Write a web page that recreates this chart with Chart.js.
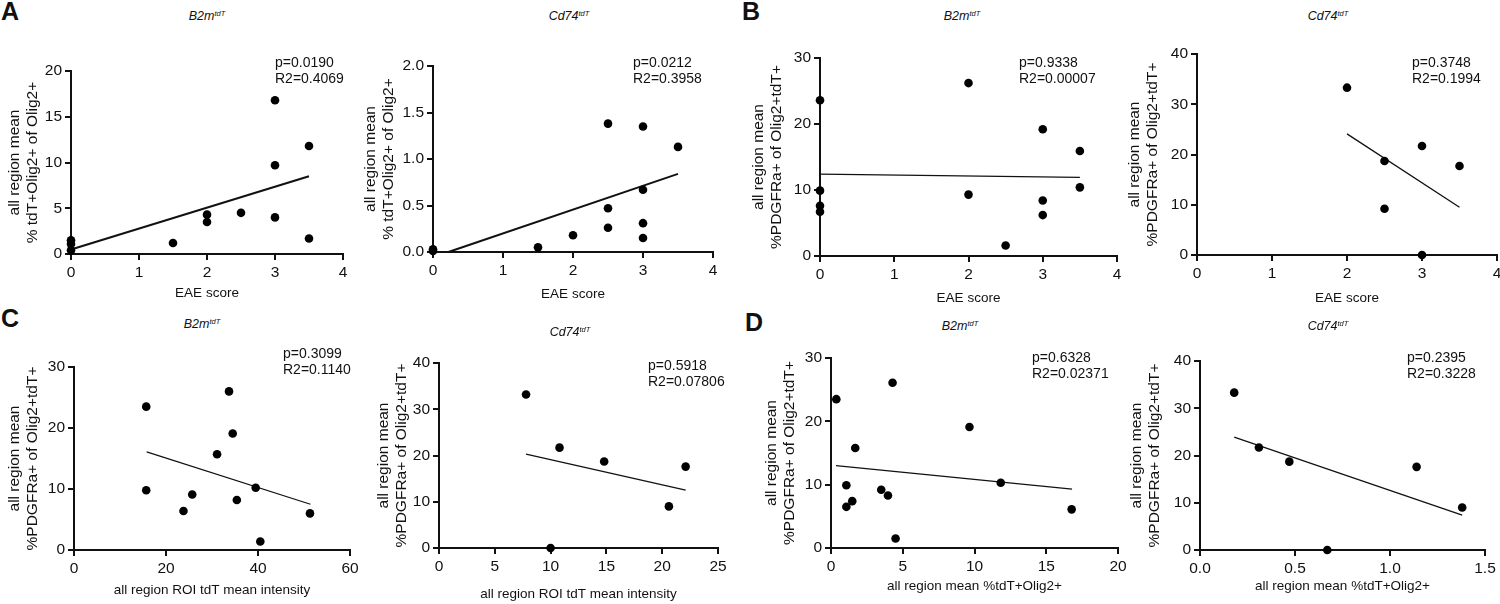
<!DOCTYPE html>
<html lang="en">
<head>
<meta charset="UTF-8">
<title>tdT correlations</title>
<script src="https://cdn.jsdelivr.net/npm/chart.js"></script>
<style>
  body { margin: 0; width: 1500px; height: 604px; position: relative; overflow: hidden; background: #fff;
         font-family: "Liberation Sans", Arial, sans-serif; color: #111; }
  .box { position: absolute; }
  .letter { position: absolute; font-weight: bold; font-size: 25px; line-height: 25px; }
  .ttl { position: absolute; font-style: italic; font-size: 12.5px; line-height: 14px; transform: translateX(-50%); white-space: nowrap; }
  .ttl sup { font-size: 7.5px; vertical-align: 4px; line-height: 0; }
  .stat { position: absolute; font-size: 14px; line-height: 16px; white-space: nowrap; }
</style>
</head>
<body>
<div class="letter" style="left:1px;top:-1px">A</div>
<div class="letter" style="left:742px;top:-1px">B</div>
<div class="letter" style="left:1px;top:306px">C</div>
<div class="letter" style="left:745px;top:310px">D</div>

<script>
  // A: EAE score vs % tdT+Olig2+ of Olig2+
  const aB2mX = [0, 0, 0, 1.5, 2, 2, 2.5, 3, 3, 3, 3.5, 3.5];
  const aB2mY = [1.5, 1.1, 0.4, 1.2, 4.3, 3.5, 4.5, 16.8, 9.7, 4.0, 11.8, 1.7];
  const aB2mFitX = [0, 3.5];
  const aB2mFitY = [0.5, 8.5];

  const aCd74X = [0, 0, 1.5, 2, 2.5, 2.5, 2.5, 3, 3, 3, 3, 3.5];
  const aCd74Y = [0.03, 0.01, 0.05, 0.18, 1.38, 0.47, 0.26, 1.35, 0.67, 0.31, 0.15, 1.13];
  const aCd74FitX = [0.22, 3.5];
  const aCd74FitY = [0, 0.84];

  // B: EAE score vs %PDGFRa+ of Olig2+tdT+
  const bB2mX = [0, 0, 0, 0, 2, 2, 2.5, 3, 3, 3, 3.5, 3.5];
  const bB2mY = [23.6, 9.9, 7.6, 6.7, 26.2, 9.3, 1.6, 19.2, 8.4, 6.2, 15.9, 10.4];
  const bB2mFitX = [0, 3.5];
  const bB2mFitY = [12.4, 11.9];

  const bCd74X = [2, 2.5, 2.5, 3, 3, 3.5];
  const bCd74Y = [33.3, 18.7, 9.2, 21.7, 0, 17.7];
  const bCd74FitX = [2, 3.5];
  const bCd74FitY = [24.1, 9.5];

  // C: ROI tdT mean intensity vs %PDGFRa+ of Olig2+tdT+
  const cB2mX = [15.7, 15.7, 23.8, 25.7, 31.1, 33.7, 34.5, 35.4, 39.5, 40.5, 51.3];
  const cB2mY = [23.5, 9.8, 6.4, 9.1, 15.7, 26.0, 19.1, 8.2, 10.2, 1.4, 6.0];
  const cB2mFitX = [15.8, 51.4];
  const cB2mFitY = [16.1, 7.5];

  const cCd74X = [7.8, 10.0, 10.8, 14.8, 20.6, 22.1];
  const cCd74Y = [33.2, 0, 21.7, 18.7, 9.0, 17.6];
  const cCd74FitX = [7.8, 22.1];
  const cCd74FitY = [20.3, 12.5];

  // D: mean %tdT+Olig2+ vs %PDGFRa+ of Olig2+tdT+
  const dB2mX = [0.37, 1.07, 1.07, 1.48, 1.69, 3.5, 3.97, 4.29, 4.5, 9.65, 11.83, 16.77];
  const dB2mY = [23.5, 9.9, 6.5, 7.4, 15.8, 9.2, 8.3, 26.1, 1.5, 19.1, 10.3, 6.1];
  const dB2mFitX = [0.35, 16.8];
  const dB2mFitY = [13.0, 9.3];

  const dCd74X = [0.18, 0.31, 0.47, 0.67, 1.14, 1.38];
  const dCd74Y = [33.3, 21.7, 18.7, 0, 17.6, 9.0];
  const dCd74FitX = [0.18, 1.38];
  const dCd74FitY = [23.9, 7.4];

  const yTitleA = ['all region mean', '% tdT+Olig2+ of Olig2+'];
  const yTitlePdg = ['all region mean', '%PDGFRa+ of Olig2+tdT+'];

  Chart.defaults.font.family = '"Liberation Sans", Arial, sans-serif';
  Chart.defaults.color = '#111';

  // chart-area edges in page pixels, axis ranges, text spots
  const panels = [
    { x: aB2mX, y: aB2mY, fx: aB2mFitX, fy: aB2mFitY, gene: 'B2m', p: 'p=0.0190', r: 'R2=0.4069',
      area: [71, 343, 71, 254], xr: [0, 4, 1], yr: [0, 20, 5], yDec: 0, xDec: 0,
      xTitle: 'EAE score', yTitle: yTitleA, xTitleY: 293, yTitleMid: 47, fitW: 2,
      ttl: [207, 9], stat: [275, 54] },
    { x: aCd74X, y: aCd74Y, fx: aCd74FitX, fy: aCd74FitY, gene: 'Cd74', p: 'p=0.0212', r: 'R2=0.3958',
      area: [433, 713, 66, 252], xr: [0, 4, 1], yr: [0, 2, 0.5], yDec: 1, xDec: 0,
      xTitle: 'EAE score', yTitle: yTitleA, xTitleY: 294, yTitleMid: 53, fitW: 2,
      ttl: [569, 9], stat: [633, 54] },
    { x: bB2mX, y: bB2mY, fx: bB2mFitX, fy: bB2mFitY, gene: 'B2m', p: 'p=0.9338', r: 'R2=0.00007',
      area: [820, 1117, 58, 256], xr: [0, 4, 1], yr: [0, 30, 10], yDec: 0, xDec: 0,
      xTitle: 'EAE score', yTitle: yTitlePdg, xTitleY: 298, yTitleMid: 52, fitW: 1.3,
      ttl: [962, 9], stat: [1019, 54] },
    { x: bCd74X, y: bCd74Y, fx: bCd74FitX, fy: bCd74FitY, gene: 'Cd74', p: 'p=0.3748', r: 'R2=0.1994',
      area: [1197, 1497, 54, 255], xr: [0, 4, 1], yr: [0, 40, 10], yDec: 0, xDec: 0,
      xTitle: 'EAE score', yTitle: yTitlePdg, xTitleY: 298, yTitleMid: 53, fitW: 1.3,
      ttl: [1328, 9], stat: [1412, 54] },
    { x: cB2mX, y: cB2mY, fx: cB2mFitX, fy: cB2mFitY, gene: 'B2m', p: 'p=0.3099', r: 'R2=0.1140',
      area: [74, 350, 367, 550], xr: [0, 60, 20], yr: [0, 30, 10], yDec: 0, xDec: 0,
      xTitle: 'all region ROI tdT mean intensity', yTitle: yTitlePdg, xTitleY: 590, yTitleMid: 50, fitW: 1.3,
      ttl: [202, 317], stat: [283, 345] },
    { x: cCd74X, y: cCd74Y, fx: cCd74FitX, fy: cCd74FitY, gene: 'Cd74', p: 'p=0.5918', r: 'R2=0.07806',
      area: [439, 718, 363, 548], xr: [0, 25, 5], yr: [0, 40, 10], yDec: 0, xDec: 0,
      xTitle: 'all region ROI tdT mean intensity', yTitle: yTitlePdg, xTitleY: 594, yTitleMid: 46, fitW: 1.3,
      ttl: [570, 325], stat: [648, 357] },
    { x: dB2mX, y: dB2mY, fx: dB2mFitX, fy: dB2mFitY, gene: 'B2m', p: 'p=0.6328', r: 'R2=0.02371',
      area: [831, 1118, 358, 548], xr: [0, 20, 5], yr: [0, 30, 10], yDec: 0, xDec: 0,
      xTitle: 'all region mean %tdT+Olig2+', yTitle: yTitlePdg, xTitleY: 586, yTitleMid: 50, fitW: 1.3,
      ttl: [960, 319], stat: [1032, 349] },
    { x: dCd74X, y: dCd74Y, fx: dCd74FitX, fy: dCd74FitY, gene: 'Cd74', p: 'p=0.2395', r: 'R2=0.3228',
      area: [1200, 1485, 361, 550], xr: [0, 1.5, 0.5], yr: [0, 40, 10], yDec: 0, xDec: 1,
      xTitle: 'all region mean %tdT+Olig2+', yTitle: yTitlePdg, xTitleY: 586, yTitleMid: 54, fitW: 1.3,
      ttl: [1328, 319], stat: [1407, 349] }
  ];

  const Y_W = 78, PAD_T = 14, PAD_R = 22, LH = 18;

  function axisStyle() {
    return {
      grid: { display: true, drawOnChartArea: false, drawTicks: true, tickLength: 6, color: '#111', lineWidth: 2 },
      border: { display: true, color: '#111', width: 2 }
    };
  }

  panels.forEach((pn, i) => {
    const [x0, x1, y0, y1] = pn.area;
    const xH = pn.xTitleY - y1 + LH / 2;
    const w = Y_W + (x1 - x0) + PAD_R;
    const h = PAD_T + (y1 - y0) + xH;

    const box = document.createElement('div');
    box.className = 'box';
    box.style.left = (x0 - Y_W) + 'px';
    box.style.top = (y0 - PAD_T) + 'px';
    const cv = document.createElement('canvas');
    cv.width = w; cv.height = h;
    box.appendChild(cv);
    document.body.appendChild(box);

    const ttl = document.createElement('div');
    ttl.className = 'ttl';
    ttl.style.left = pn.ttl[0] + 'px';
    ttl.style.top = pn.ttl[1] + 'px';
    ttl.innerHTML = pn.gene + '<sup>tdT</sup>';
    document.body.appendChild(ttl);

    const st = document.createElement('div');
    st.className = 'stat';
    st.style.left = pn.stat[0] + 'px';
    st.style.top = pn.stat[1] + 'px';
    st.innerHTML = pn.p + '<br>' + pn.r;
    document.body.appendChild(st);

    const pts = pn.x.map((v, k) => ({ x: v, y: pn.y[k] }));
    const fit = pn.fx.map((v, k) => ({ x: v, y: pn.fy[k] }));
    const titlePadTop = Y_W - (pn.yTitleMid + LH);

    new Chart(cv.getContext('2d'), {
      type: 'scatter',
      data: {
        datasets: [
          { data: fit, showLine: true, borderColor: '#111', borderWidth: pn.fitW, pointRadius: 0, clip: false, order: 2 },
          { data: pts, backgroundColor: '#000', borderWidth: 0, pointRadius: 4.3, clip: false, order: 1 }
        ]
      },
      options: {
        responsive: false,
        animation: false,
        layout: { padding: { left: 0, top: PAD_T, right: PAD_R, bottom: 0 } },
        plugins: { legend: { display: false }, tooltip: { enabled: false } },
        scales: {
          x: Object.assign(axisStyle(), {
            type: 'linear', min: pn.xr[0], max: pn.xr[1],
            ticks: { stepSize: pn.xr[2], font: { size: 15.5 }, color: '#111', padding: 3,
                     callback: v => v.toFixed(pn.xDec) },
            title: { display: true, text: pn.xTitle, font: { size: 13.5, lineHeight: LH / 13.5 }, color: '#111', padding: 0 },
            afterFit: s => { s.height = xH; }
          }),
          y: Object.assign(axisStyle(), {
            type: 'linear', min: pn.yr[0], max: pn.yr[1],
            ticks: { stepSize: pn.yr[2], font: { size: 15.5 }, color: '#111', padding: 3,
                     callback: v => v.toFixed(pn.yDec) },
            title: { display: true, text: pn.yTitle, font: { size: 15.5, lineHeight: LH / 15.5 }, color: '#111',
                     padding: { top: titlePadTop, bottom: 0 } },
            afterFit: s => { s.width = Y_W; }
          })
        }
      }
    });
  });
</script>
</body>
</html>
